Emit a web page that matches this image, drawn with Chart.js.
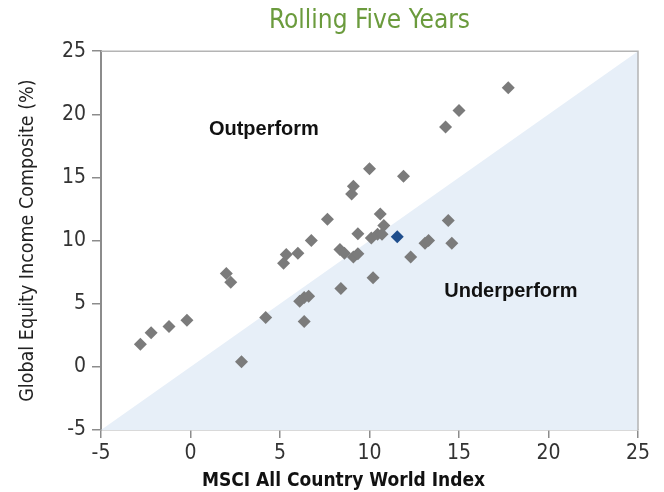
<!DOCTYPE html>
<html>
<head>
<meta charset="utf-8">
<script src="https://cdn.jsdelivr.net/npm/chart.js@4"></script>
<style>
  html, body { margin: 0; padding: 0; background: #ffffff; }
  #wrap { width: 664px; height: 492px; }
</style>
</head>
<body>
<div id="wrap"><canvas id="rollingChart" width="664" height="492"></canvas></div>
<script>
// Rolling five-year returns: MSCI ACWI (x) vs Global Equity Income Composite (y)
const msciReturns = [-2.8, -2.2, -1.2, -0.2, 2.0, 2.25, 2.85, 4.2, 5.2, 5.35, 6.0, 6.75, 6.1, 6.35, 6.6, 6.35,
  7.65, 8.35, 8.6, 9.1, 9.35, 8.4, 9.35, 10.1, 10.45, 10.7, 10.8, 10.6, 9.0, 9.1, 10.0, 11.9,
  14.25, 15.0, 17.75, 14.4, 13.1, 13.3, 14.6, 12.3, 10.2];
const compositeReturns = [1.8, 2.7, 3.2, 3.7, 7.4, 6.7, 0.4, 3.9, 8.2, 8.9, 9.0, 10.0, 5.2, 5.5, 5.6, 3.6,
  11.7, 9.3, 9.0, 8.7, 8.95, 6.2, 10.55, 10.2, 10.5, 10.5, 11.2, 12.1, 13.7, 14.3, 15.7, 15.1,
  19.0, 20.3, 22.1, 11.6, 9.8, 10.0, 9.8, 8.7, 7.05];
const latestX = [11.55];
const latestY = [10.3];

const axisMin = -5;
const axisMax = 25;
const tickStep = 5;

const regionLabels = ["Outperform", "Underperform"];
const regionLabelX = [4.1, 17.9];
const regionLabelY = [18.8, 5.95];

const xAxisTitle = "MSCI All Country World Index";

const condensed = "'DejaVu Sans Condensed', 'Liberation Sans', Arial, sans-serif";

const regionText = {
  id: "regionText",
  afterDatasetsDraw(chart) {
    const { ctx, scales } = chart;
    ctx.save();
    ctx.font = "bold 20px 'Liberation Sans', Arial, sans-serif";
    ctx.fillStyle = "#111111";
    ctx.textAlign = "center";
    ctx.textBaseline = "middle";
    regionLabels.forEach((t, i) => {
      ctx.fillText(t, scales.x.getPixelForValue(regionLabelX[i]), scales.y.getPixelForValue(regionLabelY[i]));
    });
    ctx.restore();
  }
};

// frame on top/right and the x axis title (sits a bit left of centre in the original)
const plotFrame = {
  id: "plotFrame",
  afterDraw(chart) {
    const a = chart.chartArea;
    const ctx = chart.ctx;
    ctx.save();
    ctx.strokeStyle = "#b4b4b4";
    ctx.lineWidth = 1.5;
    ctx.beginPath();
    ctx.moveTo(a.left, a.top);
    ctx.lineTo(a.right, a.top);
    ctx.lineTo(a.right, a.bottom);
    ctx.stroke();

    ctx.font = "bold 19px " + condensed;
    ctx.fillStyle = "#111111";
    ctx.textAlign = "center";
    ctx.textBaseline = "middle";
    ctx.fillText(xAxisTitle, (a.left + a.right) / 2 - 26, chart.height - 11);
    ctx.restore();
  }
};

const ctx = document.getElementById("rollingChart").getContext("2d");
const rollingChart = new Chart(ctx, {
  type: "scatter",
  data: {
    datasets: [
      {
        label: "Latest",
        data: latestX.map((x, i) => ({ x: x, y: latestY[i] })),
        pointStyle: "rectRot",
        pointRadius: 6.5,
        backgroundColor: "#1f4e8d",
        borderWidth: 0,
        order: 0
      },
      {
        label: "Rolling periods",
        data: msciReturns.map((x, i) => ({ x: x, y: compositeReturns[i] })),
        pointStyle: "rectRot",
        pointRadius: 6.5,
        backgroundColor: "#7b7b7b",
        borderWidth: 0,
        order: 1
      },
      {
        label: "Equal line",
        type: "line",
        data: [{ x: axisMin, y: axisMin }, { x: axisMax, y: axisMax }],
        borderWidth: 0,
        pointRadius: 0,
        fill: "start",
        backgroundColor: "#e7eff8",
        order: 2
      }
    ]
  },
  options: {
    responsive: false,
    animation: false,
    layout: { padding: { left: 0, right: 26, top: 0, bottom: 0 } },
    plugins: {
      legend: { display: false },
      tooltip: { enabled: false },
      title: {
        display: true,
        fullSize: false,
        text: "Rolling Five Years",
        color: "#6b9b3d",
        font: { family: condensed, size: 26, weight: "normal" },
        padding: { top: 6, bottom: 14 }
      }
    },
    scales: {
      x: {
        type: "linear",
        min: axisMin,
        max: axisMax,
        ticks: { stepSize: tickStep, color: "#333333", padding: 3, font: { family: condensed, size: 21 } },
        grid: { display: true, drawOnChartArea: false, drawTicks: true, tickLength: 8, color: "#8c8c8c", lineWidth: 1.5 },
        border: { display: true, color: "#b4b4b4", width: 1.5 },
        afterFit(scale) { scale.height = 62; }
      },
      y: {
        type: "linear",
        min: axisMin,
        max: axisMax,
        ticks: { stepSize: tickStep, color: "#333333", padding: 6, font: { family: condensed, size: 21 } },
        grid: { display: true, drawOnChartArea: false, drawTicks: true, tickLength: 9, color: "#8c8c8c", lineWidth: 1.5 },
        border: { display: true, color: "#8c8c8c", width: 2 },
        title: {
          display: true,
          text: "Global Equity Income Composite (%)",
          color: "#222222",
          font: { family: condensed, size: 19.5, weight: "normal" },
          padding: { top: 16, bottom: 0 }
        },
        afterFit(scale) { scale.width = 101; }
      }
    }
  },
  plugins: [regionText, plotFrame]
});
</script>
</body>
</html>
